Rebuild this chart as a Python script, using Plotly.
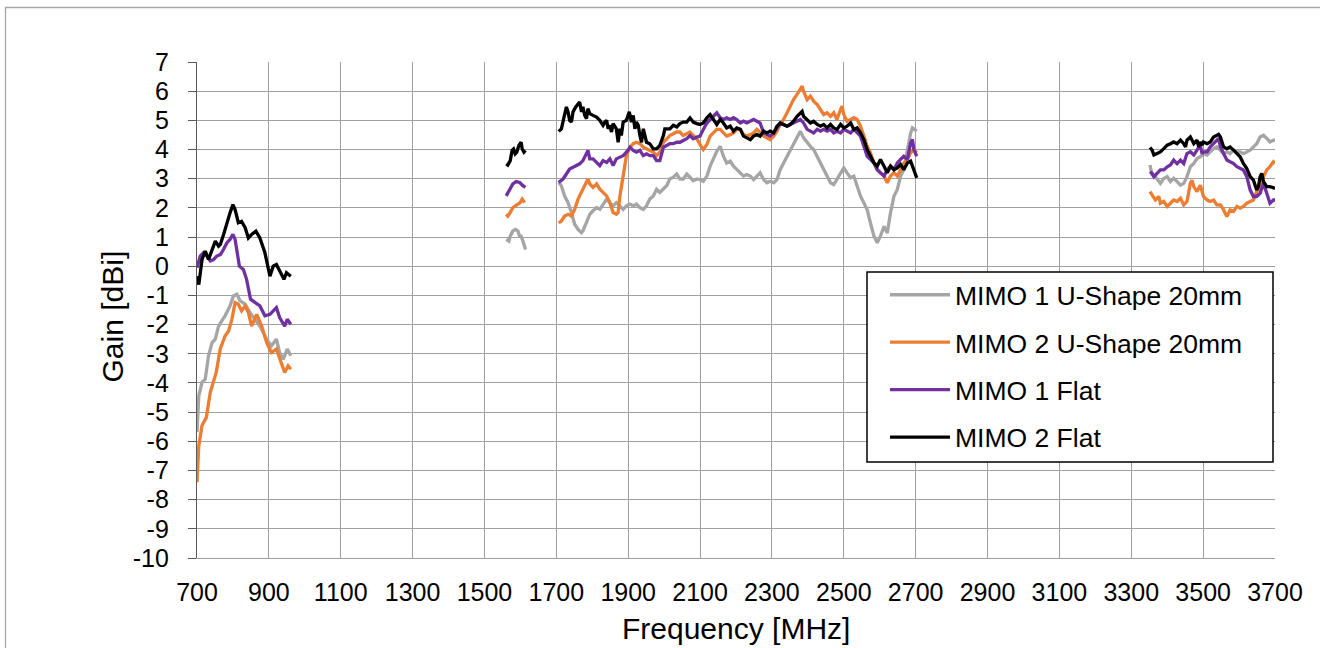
import plotly.graph_objects as go

# ---------------- data ----------------
N = None

u1_freq = [700, 705, 714, 723, 732, 742, 751, 760, 769, 778, 792, 801, 811, 820, 834, 847.5, 861, 875, 894, 907, 921, 930, 940, 951, 961, N,
           1560.5, 1568, 1571.7, 1579, 1586, 1593, 1597.7, 1602, 1607, 1611.7, 1614.5, N,
           1706.5, 1714, 1723, 1732.6, 1742, 1751, 1760.5, 1770, 1774, 1784, 1793, 1802, 1812, 1821, 1830, 1840, 1849, 1858, 1867, 1877, 1886, 1895, 1905, 1914, 1923, 1932.5, 1942, 1951, 1960, 1970, 1979, 1988, 1998, 2007, 2016, 2025.5, 2035, 2044, 2053, 2063, 2072, 2081, 2091,
           2100, 2109, 2119, 2128, 2137, 2146.5, 2156, 2165, 2174, 2184, 2193, 2202, 2212, 2221, 2230, 2240, 2249, 2258, 2267, 2277, 2286, 2295, 2305, 2314, 2323, 2332.5, 2342, 2351, 2360, 2370, 2379, 2388, 2398, 2407, 2416, 2426, 2435, 2444, 2453.5, 2463, 2472, 2481, 2491, 2500, 2509, 2519, 2528, 2537, 2546.5, 2556, 2565, 2574, 2584, 2593, 2602, 2612, 2621, 2630, 2639.5, 2649, 2658, 2667, 2677, 2686, 2691, 2695, 2703, N,
           3352, 3358, 3367, 3377, 3381, 3390.5, 3400, 3409, 3418, 3427.5, 3437, 3446, 3455, 3464.5, 3474, 3483, 3492, 3501, 3511, 3520, 3529, 3538, 3548, 3557, 3566, 3575, 3584.6, 3594, 3603, 3612, 3621.5, 3631, 3640, 3649, 3658.5, 3668, 3677, 3686, 3695.5, 3700]
u1_gain = [-5.69, -4.44, -3.98, -3.87, -3.07, -2.62, -2.50, -2.05, -1.87, -1.70, -1.36, -1.02, -0.96, -1.19, -1.30, -1.59, -1.82, -2.05, -2.50, -2.73, -2.50, -2.96, -3.19, -2.84, -3.07, N,
           0.92, 0.86, 1.03, 1.21, 1.26, 1.21, 1.03, 1.03, 0.86, 0.69, 0.57, N,
           2.87, 2.76, 2.41, 2.18, 1.84, 1.44, 1.26, 1.15, 1.21, 1.55, 1.78, 1.90, 2.01, 1.95, 2.13, 2.30, 2.18, 2.07, 2.18, 2.07, 1.95, 2.07, 2.13, 2.07, 2.13, 2.01, 1.95, 2.07, 2.30, 2.41, 2.64, 2.53, 2.64, 2.76, 2.99, 3.05, 3.16, 2.99, 2.99, 3.16, 3.05, 2.93, 2.99,
           2.97, 2.91, 3.09, 3.43, 3.71, 3.94, 4.11, 3.77, 3.54, 3.60, 3.43, 3.31, 3.20, 3.09, 3.14, 3.09, 2.97, 3.09, 3.20, 2.97, 2.86, 2.91, 2.86, 2.97, 3.31, 3.54, 3.77, 4.00, 4.23, 4.46, 4.63, 4.40, 4.23, 4.11, 4.00, 3.77, 3.54, 3.31, 3.09, 2.86, 2.80, 2.97, 3.20, 3.37, 3.20, 3.03, 3.09, 2.74, 2.40, 2.17, 1.94, 1.49, 1.03, 0.80, 1.03, 1.37, 1.14, 1.83, 2.40, 2.63, 3.09, 3.31, 4.00, 4.57, 4.74, 4.69, 4.63, N,
           3.47, 3.13, 3.07, 2.90, 2.84, 3.01, 3.07, 2.90, 3.01, 2.90, 2.78, 2.84, 3.07, 3.41, 3.52, 3.69, 3.75, 3.86, 3.81, 3.92, 4.03, 4.09, 3.98, 3.86, 3.92, 3.86, 3.98, 3.92, 3.92, 3.86, 3.92, 3.98, 4.09, 4.20, 4.43, 4.49, 4.38, 4.26, 4.32, 4.32]

u2_freq = [700, 705, 714, 726, 737, 746, 753.5, 764.5, 778, 788, 797, 806, 815, 824, 834, 843, 852, 866, 880, 894, 907, 921, 930, 944, 953.5, 961, N,
           1560.5, 1565, 1571.7, 1579, 1586, 1593, 1599.5, 1605, 1611.7, N,
           1706.5, 1714, 1723, 1732.6, 1742, 1751, 1760.5, 1770, 1779, 1788, 1793, 1802, 1812, 1821, 1830, 1840, 1849, 1858, 1867, 1872, 1877, 1886, 1895, 1905, 1914, 1923, 1932.5, 1942, 1951, 1960, 1970, 1979, 1988, 1998, 2007, 2016, 2025.5, 2035, 2044, 2053, 2063, 2072, 2081, 2091,
           2100, 2109, 2119, 2128, 2137, 2146.5, 2156, 2165, 2174, 2184, 2193, 2202, 2212, 2221, 2230, 2240, 2249, 2258, 2267, 2277, 2286, 2295, 2305, 2314, 2323, 2332.5, 2342, 2351, 2360, 2370, 2379, 2384, 2388, 2398, 2407, 2416, 2426, 2435, 2444, 2453.5, 2463, 2472, 2481, 2491, 2495, 2500, 2509, 2519, 2528, 2537, 2546.5, 2556, 2565, 2574, 2584, 2593, 2602, 2612, 2621, 2630, 2639.5, 2649, 2658, 2667, 2677, 2686, 2695, 2703, N,
           3352, 3358, 3367, 3377, 3381, 3390.5, 3400, 3409, 3418, 3427.5, 3437, 3446, 3455, 3464.5, 3469, 3474, 3483, 3492, 3501, 3511, 3520, 3529, 3538, 3548, 3557, 3566, 3575, 3584.6, 3594, 3603, 3612, 3621.5, 3631, 3640, 3649, 3658.5, 3668, 3677, 3686, 3695.5, 3700]
u2_gain = [-7.40, -6.15, -5.46, -5.18, -4.32, -3.98, -3.64, -2.84, -2.39, -2.22, -1.82, -1.25, -1.30, -1.53, -1.36, -1.59, -2.05, -1.65, -2.05, -2.62, -2.96, -2.84, -3.19, -3.64, -3.41, -3.53, N,
           1.78, 1.72, 1.84, 2.01, 2.07, 2.13, 2.18, 2.30, 2.18, N,
           1.49, 1.55, 1.72, 1.78, 1.72, 1.95, 2.30, 2.53, 2.76, 2.99, 2.82, 2.70, 2.82, 2.64, 2.53, 2.41, 2.18, 1.84, 1.78, 1.84, 2.41, 3.10, 3.79, 4.08, 4.20, 4.25, 4.20, 4.08, 4.02, 3.97, 3.91, 3.79, 3.91, 4.25, 4.37, 4.48, 4.54, 4.60, 4.60, 4.48, 4.54, 4.60, 4.48, 4.37,
           4.17, 4.00, 4.17, 4.46, 4.57, 4.69, 4.69, 4.57, 4.46, 4.51, 4.57, 4.69, 4.69, 4.51, 4.46, 4.51, 4.57, 4.69, 4.57, 4.46, 4.40, 4.34, 4.46, 4.63, 4.86, 5.03, 5.26, 5.49, 5.71, 5.89, 6.11, 6.17, 6.00, 5.71, 5.83, 5.66, 5.54, 5.37, 5.20, 5.26, 5.14, 5.26, 5.03, 5.37, 5.49, 5.20, 4.97, 5.03, 5.09, 5.03, 4.80, 4.46, 4.11, 3.89, 3.54, 3.31, 3.20, 3.09, 2.86, 3.09, 3.20, 3.09, 3.31, 3.54, 3.66, 3.89, 4.00, 3.89, N,
           2.56, 2.44, 2.27, 2.39, 2.16, 2.22, 2.05, 2.16, 2.27, 2.22, 2.33, 2.10, 2.22, 2.84, 2.95, 2.73, 2.56, 2.78, 2.39, 2.27, 2.22, 2.27, 2.10, 2.10, 1.93, 1.70, 1.93, 1.88, 2.05, 1.99, 2.05, 2.16, 2.22, 2.27, 2.56, 2.73, 3.07, 3.30, 3.41, 3.58, 3.52]

f1_freq = [700, 709, 718, 728, 737, 746, 755, 765, 774, 783, 792, 800, 806, 818, 829, 838, 849, 861, 875, 889, 903, 921, 930, 944, 951, 961, N,
           1560.5, 1570, 1579, 1588, 1598, 1607, 1614, N,
           1706.5, 1718.6, 1728, 1737, 1746.5, 1756, 1765, 1774, 1784, 1788, 1793, 1802, 1812, 1821, 1830, 1840, 1849, 1858, 1867, 1877, 1886, 1895, 1905, 1914, 1923, 1932.5, 1942, 1951, 1960, 1970, 1979, 1988, 1998, 2007, 2016, 2025.5, 2035, 2044, 2053, 2063, 2072, 2081, 2091,
           2100, 2109, 2119, 2137, 2146.5, 2156, 2165, 2174, 2184, 2193, 2202, 2212, 2221, 2230, 2240, 2249, 2258, 2267, 2277, 2286, 2295, 2305, 2314, 2323, 2332.5, 2342, 2351, 2360, 2370, 2379, 2388, 2398, 2407, 2416, 2426, 2435, 2444, 2453.5, 2463, 2472, 2481, 2491, 2500, 2509, 2519, 2528, 2537, 2546.5, 2556, 2565, 2574, 2584, 2593, 2602, 2612, 2621, 2630, 2639.5, 2649, 2658, 2667, 2677, 2686, 2691, 2695, 2703, N,
           3352, 3358, 3363, 3372, 3381, 3390.5, 3400, 3409, 3418, 3427.5, 3437, 3446, 3455, 3464.5, 3474, 3483, 3492, 3497, 3501, 3511, 3520, 3529, 3538, 3543, 3548, 3557, 3566, 3575, 3584.6, 3594, 3603, 3612, 3621.5, 3631, 3640, 3649, 3658.5, 3668, 3677, 3686, 3695.5, 3700]
f1_gain = [-0.05, 0.35, 0.46, 0.35, 0.18, 0.23, 0.35, 0.40, 0.58, 0.80, 0.92, 1.09, 0.92, 0.0, -0.11, -0.45, -1.13, -1.25, -1.36, -1.70, -1.65, -1.42, -1.76, -2.05, -1.82, -1.99, N,
           2.41, 2.64, 2.82, 2.90, 2.87, 2.76, 2.70, N,
           2.87, 2.99, 3.16, 3.33, 3.39, 3.45, 3.51, 3.62, 3.85, 3.97, 3.68, 3.68, 3.56, 3.45, 3.62, 3.56, 3.68, 3.45, 3.68, 3.74, 3.79, 3.91, 4.08, 3.97, 3.91, 3.97, 3.79, 3.85, 3.79, 3.79, 3.62, 3.62, 4.08, 4.14, 4.20, 4.20, 4.25, 4.25, 4.31, 4.37, 4.48, 4.37, 4.43,
           4.46, 4.69, 4.91, 5.14, 5.26, 5.09, 5.03, 5.09, 5.03, 5.09, 5.03, 4.91, 4.97, 4.91, 4.97, 5.03, 4.97, 4.91, 4.57, 4.51, 4.46, 4.57, 4.74, 4.91, 4.86, 4.80, 4.86, 4.91, 4.97, 5.03, 4.91, 4.69, 4.63, 4.57, 4.69, 4.63, 4.69, 4.63, 4.69, 4.57, 4.63, 4.57, 4.69, 4.63, 4.57, 4.69, 4.57, 4.46, 4.11, 3.77, 3.66, 3.54, 3.31, 3.20, 3.09, 3.31, 3.43, 3.31, 3.54, 3.66, 3.77, 3.66, 4.23, 4.34, 4.00, 3.77, N,
           3.24, 3.18, 3.07, 3.18, 3.30, 3.30, 3.41, 3.47, 3.64, 3.52, 3.64, 3.52, 3.86, 3.92, 3.81, 3.98, 4.15, 3.86, 3.92, 3.92, 4.09, 4.20, 4.32, 4.38, 4.09, 3.86, 3.64, 3.58, 3.52, 3.41, 3.35, 3.30, 3.07, 2.61, 2.39, 2.39, 2.50, 2.84, 2.50, 2.16, 2.27, 2.27]

f2_freq = [700, 705, 714, 723, 732, 742, 751, 760, 765, 774, 783, 792, 800, 806, 815, 824, 834, 843, 852, 864, 875, 889, 903, 912, 921, 930, 942, 949, 961, N,
           1560.5, 1565, 1571.7, 1577, 1581, 1585.6, 1590, 1595.7, 1602, 1605, 1609.8, 1614, N,
           1706.5, 1714, 1720.5, 1728, 1732.6, 1737, 1742, 1746.5, 1754, 1760.5, 1765, 1770, 1774, 1779, 1784, 1788, 1793, 1802, 1812, 1821, 1830, 1835, 1840, 1844, 1849, 1853.5, 1858, 1867, 1872, 1877, 1881, 1886, 1895, 1903, 1909, 1914, 1918.6, 1923, 1928, 1932.5, 1937, 1942, 1946.5, 1951, 1960, 1970, 1979, 1988, 1998, 2002, 2016, 2025.5, 2035, 2044, 2053, 2063, 2072, 2081, 2091,
           2100, 2109, 2119, 2128, 2137, 2146.5, 2156, 2165, 2174, 2184, 2193, 2202, 2212, 2221, 2230, 2240, 2249, 2258, 2267, 2277, 2286, 2295, 2305, 2314, 2323, 2332.5, 2342, 2351, 2360, 2370, 2379, 2384, 2388, 2398, 2407, 2416, 2426, 2435, 2444, 2453.5, 2463, 2472, 2481, 2491, 2500, 2509, 2519, 2528, 2537, 2546.5, 2556, 2565, 2574, 2584, 2593, 2602, 2612, 2621, 2630, 2639.5, 2649, 2658, 2667, 2677, 2686, 2695, 2703, N,
           3352, 3358, 3363, 3372, 3381, 3390.5, 3400, 3409, 3418, 3427.5, 3437, 3446, 3451, 3455, 3464.5, 3474, 3483, 3487.6, 3492, 3497, 3501, 3511, 3520, 3529, 3538, 3543, 3548, 3557, 3566, 3575, 3584.6, 3594, 3603, 3612, 3621.5, 3631, 3640, 3649, 3654, 3658.5, 3663, 3668, 3677, 3686, 3695.5, 3700]
f2_gain = [-0.34, -0.63, 0.23, 0.52, 0.23, 0.58, 0.86, 0.69, 0.75, 1.09, 1.49, 1.83, 2.11, 1.94, 1.49, 1.54, 1.32, 0.97, 1.09, 1.20, 0.97, 0.46, -0.34, 0.0, 0.06, -0.17, -0.45, -0.22, -0.34, N,
           3.51, 3.47, 3.62, 3.97, 4.02, 3.85, 3.91, 4.14, 4.25, 4.02, 3.91, 3.97, N,
           4.62, 4.71, 5.06, 5.46, 5.29, 5.00, 4.94, 5.29, 5.46, 5.57, 5.63, 5.29, 5.46, 5.17, 5.06, 5.40, 5.23, 5.17, 5.11, 5.00, 4.83, 4.94, 5.00, 4.71, 4.83, 4.60, 4.89, 4.71, 4.25, 4.71, 4.48, 4.94, 5.00, 5.29, 4.94, 5.17, 4.71, 4.94, 4.83, 4.48, 4.25, 4.71, 4.48, 4.25, 4.20, 4.02, 4.02, 4.14, 4.48, 4.71, 4.71, 4.83, 4.77, 4.89, 4.94, 4.94, 5.08, 4.94, 4.89,
           4.86, 4.91, 5.09, 5.20, 5.03, 4.86, 5.03, 4.91, 4.74, 4.80, 4.63, 4.74, 4.69, 4.46, 4.40, 4.34, 4.46, 4.51, 4.46, 4.63, 4.57, 4.63, 4.57, 4.80, 4.91, 4.86, 4.80, 4.86, 4.97, 5.14, 5.26, 5.31, 5.14, 5.03, 4.91, 4.97, 4.86, 4.80, 4.86, 4.74, 4.86, 4.74, 4.69, 4.86, 4.74, 4.80, 4.91, 4.69, 4.74, 4.57, 4.34, 4.00, 3.77, 3.54, 3.43, 3.66, 3.43, 3.20, 3.43, 3.31, 3.37, 3.49, 3.31, 3.54, 3.60, 3.31, 3.03, N,
           4.07, 3.98, 3.81, 3.86, 3.92, 4.03, 4.15, 4.20, 4.26, 4.20, 4.32, 4.20, 4.09, 4.32, 4.43, 4.20, 4.32, 4.09, 4.26, 4.15, 4.26, 4.20, 4.26, 4.43, 4.49, 4.52, 4.43, 4.09, 4.03, 4.09, 3.98, 3.86, 3.75, 3.52, 3.35, 3.07, 2.95, 2.61, 2.73, 3.07, 3.18, 2.90, 2.73, 2.73, 2.67, 2.67]

series_names = ["MIMO 1 U-Shape 20mm", "MIMO 2 U-Shape 20mm", "MIMO 1 Flat", "MIMO 2 Flat"]
series_colors = ["#a5a5a5", "#ed7d31", "#7030a0", "#000000"]
series_freqs = [u1_freq, u2_freq, f1_freq, f2_freq]
series_gains = [u1_gain, u2_gain, f1_gain, f2_gain]

x_ticks = list(range(700, 3701, 200))
y_ticks = list(range(-10, 8))
x_title = "Frequency [MHz]"
y_title = "Gain [dBi]"

# ---------------- figure ----------------
W, H = 1320, 648
ML, MR, MT, MB = 197, 45, 62, 90
PW, PH = W - ML - MR, H - MT - MB

def px_x(p):
    return (p - ML) / PW

def px_y(p):
    return (H - MB - p) / PH

FONT = "Liberation Sans, Arial, sans-serif"

fig = go.Figure()
for name, col, xs, ys in zip(series_names, series_colors, series_freqs, series_gains):
    fig.add_trace(go.Scatter(x=xs, y=ys, mode="lines", name=name, legendgroup=name,
                             line=dict(color=col, width=3.3), connectgaps=False))

fig.update_layout(
    width=W, height=H,
    margin=dict(l=ML, r=MR, t=MT, b=MB, pad=0),
    paper_bgcolor="white", plot_bgcolor="white",
    font=dict(family=FONT, color="#000000"),
    showlegend=True,
    legend=dict(x=px_x(885), y=px_y(271), xanchor="left", yanchor="top",
                bgcolor="rgba(0,0,0,0)", borderwidth=0,
                font=dict(size=26.5, family=FONT), itemwidth=60,
                tracegroupgap=10, traceorder="grouped"),
    xaxis=dict(range=[700, 3700], tickvals=x_ticks, ticktext=[str(v) for v in x_ticks],
               showgrid=True, gridcolor="#a0a0a0", gridwidth=1.2,
               showline=True, linecolor="#a0a0a0", linewidth=1.2,
               ticks="", tickfont=dict(size=25, family=FONT), ticklabelstandoff=12,
               zeroline=False),
    yaxis=dict(range=[-10, 7], tickvals=y_ticks, ticktext=[str(v) for v in y_ticks],
               showgrid=True, gridcolor="#a0a0a0", gridwidth=1.2,
               showline=True, linecolor="#595959", linewidth=1.3,
               ticks="outside", ticklen=8, tickwidth=1.3, tickcolor="#595959",
               tickfont=dict(size=25, family=FONT), ticklabelstandoff=14,
               zeroline=False),
    annotations=[
        dict(text=x_title, xref="paper", yref="paper", x=px_x(736), y=px_y(628),
             xanchor="center", yanchor="middle", showarrow=False,
             font=dict(size=30, family=FONT, color="#000000")),
        dict(text=y_title, xref="paper", yref="paper", x=px_x(111.5), y=px_y(317),
             xanchor="center", yanchor="middle", showarrow=False, textangle=-90,
             font=dict(size=30, family=FONT, color="#000000")),
    ],
    shapes=[
        # outer chart frame
        dict(type="rect", xref="paper", yref="paper",
             x0=px_x(5.5), x1=px_x(1400), y0=px_y(800), y1=px_y(7.5),
             line=dict(color="#a6a6a6", width=1.3), fillcolor="rgba(0,0,0,0)", layer="below"),
        # legend frame
        dict(type="rect", xref="paper", yref="paper",
             x0=px_x(867), x1=px_x(1273), y0=px_y(462), y1=px_y(272),
             line=dict(color="#000000", width=1.5), fillcolor="white", layer="above"),
    ],
)

fig.write_html("out.html")
